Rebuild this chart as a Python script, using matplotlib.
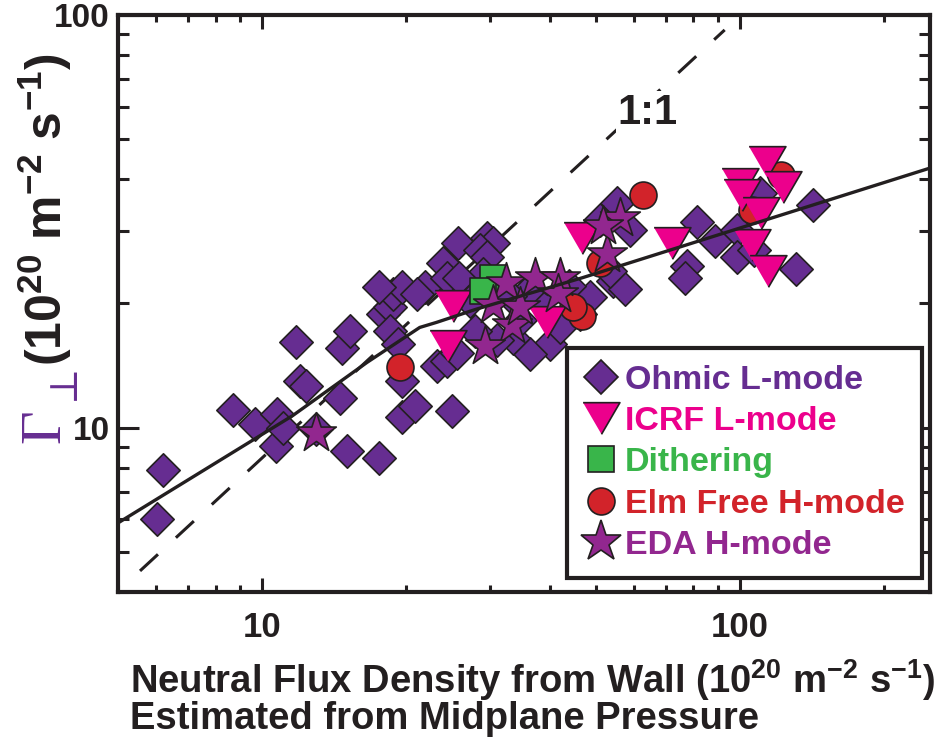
import matplotlib
matplotlib.use("Agg")
import matplotlib.pyplot as plt
from matplotlib.lines import Line2D
from matplotlib.ticker import LogLocator, NullFormatter, FixedLocator, FixedFormatter

plt.rcParams['mathtext.default'] = 'regular'

# ---------------- data ----------------
ohmic_x = [6.03, 6.21, 8.70, 9.67, 10.75, 10.7, 11.06, 11.78, 12.0, 12.4, 14.7, 15.3, 14.6, 13.0,
           15.1, 17.6, 19.6, 19.6, 20.9, 25.0, 23.2, 24.4, 17.9, 18.5, 18.8, 19.6, 18.5, 19.3,
           17.6, 21.9, 21.1, 23.9, 25.7, 29.6, 30.4, 28.6, 24.4, 29.6, 29.0, 25.6, 25.9, 48.6,
           54.2, 57.5, 40.0, 36.4, 33.5, 31.0, 34.7, 42.0, 46.3, 38.2, 27.2, 27.9, 55.3, 58.9,
           50.9, 53.5, 81.3, 88.7, 98.6, 98.6, 77.5, 76.7, 142, 131, 110, 107, 36.0, 44.0, 33.0]
ohmic_y = [6.01, 7.91, 11.05, 10.2, 10.8, 9.04, 10.0, 16.1, 13.0, 12.6, 15.6, 17.2, 11.8, 9.94,
           8.79, 8.45, 13.0, 10.6, 11.3, 11.0, 14.1, 14.5, 18.9, 19.6, 21.1, 21.9, 17.2, 16.0,
           21.9, 21.9, 21.1, 25.0, 28.0, 28.9, 28.0, 26.9, 23.0, 25.9, 23.6, 15.2, 23.1, 20.7,
           22.7, 21.7, 16.0, 15.1, 16.5, 16.3, 18.2, 17.5, 18.9, 20.3, 20.3, 17.2, 35.0, 30.1,
           31.8, 24.0, 31.5, 28.4, 30.1, 25.9, 24.7, 23.1, 34.6, 24.3, 37.0, 26.9, 21.5, 22.0, 20.8]

icrf_x = [25.1, 24.5, 39.5, 46.7, 72.1, 114, 100, 101, 123, 111, 106, 114.5]
icrf_y = [19.7, 15.8, 18.0, 28.8, 28.0, 44.0, 39.0, 36.6, 38.2, 33.2, 27.7, 24.0]

dither_x = [30.4, 29.0]
dither_y = [23.1, 21.5]

elm_x = [19.5, 46.7, 44.7, 62.7, 50.9, 122, 106]
elm_y = [14.0, 18.7, 19.6, 36.6, 25.0, 40.9, 33.6]

eda_x = [13.0, 32.5, 37.2, 42.0, 30.4, 33.3, 29.3, 34.7, 41.6, 52.7, 56.1, 51.7]
eda_y = [9.7, 22.4, 23.0, 23.1, 19.8, 17.7, 15.8, 19.6, 21.1, 26.4, 32.3, 30.9]

fit_x = [5.0, 11.6, 16.6, 21.4, 23.2, 28.2, 46.9, 249]
fit_y = [5.88, 10.7, 14.4, 17.5, 18.0, 19.4, 23.1, 42.5]

one_x = [5.56, 93]
one_y = [4.5, 92]

labels = ["Ohmic L-mode", "ICRF L-mode", "Dithering", "Elm Free H-mode", "EDA H-mode"]
colors = ["#662d91", "#ec008c", "#39b54a", "#d2232a", "#92278f"]

xticks = [10, 100]
xticklabels = ["10", "100"]
yticks = [10, 100]
yticklabels = ["10", "100"]

# ---------------- figure ----------------
EDGE = "#231f20"
tri = [(-1, 0.86), (1, 0.86), (0, -0.86)]

fig = plt.figure(figsize=(9.53, 7.37), dpi=100)
ax = fig.add_axes([0.1238, 0.1967, 0.852, 0.783])
ax.set_xscale('log')
ax.set_yscale('log')
ax.set_xlim(5, 250)
ax.set_ylim(4, 100)

ax.plot(one_x, one_y, color=EDGE, lw=2.2, dashes=(8, 8), zorder=1)
ax.scatter(ohmic_x, ohmic_y, marker='D', s=17**2, c=colors[0], edgecolors=EDGE, linewidths=1.2, zorder=2)
ax.scatter(elm_x, elm_y, marker='o', s=19.4**2, c=colors[3], edgecolors=EDGE, linewidths=1.2, zorder=3)
ax.scatter(icrf_x, icrf_y, marker=tri, s=26.5**2, c=colors[1], edgecolors=EDGE, linewidths=1.2, zorder=4)
ax.scatter(dither_x, dither_y, marker='s', s=18.7**2, c=colors[2], edgecolors=EDGE, linewidths=1.2, zorder=5)
ax.scatter(eda_x, eda_y, marker='*', s=30**2, c=colors[4], edgecolors=EDGE, linewidths=1.2, zorder=6)
ax.plot(fit_x, fit_y, color=EDGE, lw=2.4, zorder=7)

ax.text(64, 58, "1:1", ha='center', va='center', fontsize=30, fontweight='bold',
        family='Liberation Sans', color=EDGE, zorder=1.5,
        bbox=dict(facecolor='white', edgecolor='none', pad=1))

# ticks
for s in ax.spines.values():
    s.set_linewidth(3)
    s.set_color(EDGE)
ax.xaxis.set_major_locator(FixedLocator(xticks))
ax.xaxis.set_major_formatter(FixedFormatter(xticklabels))
ax.yaxis.set_major_locator(FixedLocator(yticks))
ax.yaxis.set_major_formatter(FixedFormatter(yticklabels))
ax.xaxis.set_minor_locator(LogLocator(base=10, subs=range(2, 10)))
ax.yaxis.set_minor_locator(LogLocator(base=10, subs=range(2, 10)))
ax.xaxis.set_minor_formatter(NullFormatter())
ax.yaxis.set_minor_formatter(NullFormatter())
ax.tick_params(axis='x', which='major', direction='in', length=10, width=2.2, top=True, pad=14, color=EDGE)
ax.tick_params(axis='x', which='minor', direction='in', length=5, width=2.2, top=True, color=EDGE)
ax.tick_params(axis='y', which='major', direction='in', length=15, width=2.2, right=True, pad=6, color=EDGE)
ax.tick_params(axis='y', which='minor', direction='in', length=8, width=2.2, right=True, color=EDGE)
for lab in ax.get_xticklabels():
    lab.set_fontfamily('Liberation Sans')
    lab.set_fontweight('bold')
    lab.set_fontsize(25)
    lab.set_color(EDGE)
for lab in ax.get_yticklabels():
    lab.set_fontfamily('Liberation Sans')
    lab.set_fontweight('bold')
    lab.set_fontsize(24)
    lab.set_color(EDGE)

# legend
handles = [
    Line2D([], [], ls='none', marker='D', ms=17, mfc=colors[0], mec=EDGE, mew=1.2),
    Line2D([], [], ls='none', marker=tri, ms=26.5, mfc=colors[1], mec=EDGE, mew=1.2),
    Line2D([], [], ls='none', marker='s', ms=18.7, mfc=colors[2], mec=EDGE, mew=1.2),
    Line2D([], [], ls='none', marker='o', ms=19.4, mfc=colors[3], mec=EDGE, mew=1.2),
    Line2D([], [], ls='none', marker='*', ms=31, mfc=colors[4], mec=EDGE, mew=1.2),
]
leg = ax.legend(handles, labels, loc='upper left', bbox_to_anchor=(0.553, 0.423),
                borderaxespad=0, frameon=True, fancybox=False, framealpha=1,
                edgecolor=EDGE, handlelength=1.0, handletextpad=0.2, labelspacing=0.3,
                borderpad=0.5, labelcolor=colors,
                prop={'family': 'Liberation Sans', 'weight': 'bold', 'size': 24.5})
leg.get_frame().set_linewidth(3)
leg.set_zorder(10)

# axis labels
fig.text(130 / 953, 1 - 693 / 737, "Neutral Flux Density from Wall (10$^{20}$ m$^{-2}$ s$^{-1}$)",
         ha='left', va='baseline', fontsize=27.5, fontweight='bold', family='Liberation Sans', color=EDGE)
fig.text(130 / 953, 1 - 729 / 737, "Estimated from Midplane Pressure",
         ha='left', va='baseline', fontsize=27.5, fontweight='bold', family='Liberation Sans', color=EDGE)

fig.text(45 / 953, 1 - 366 / 737, "(10$^{20}$ m$^{-2}$ s$^{-1}$)", rotation=90,
         ha='center', va='bottom', fontsize=36, fontweight='bold', family='Liberation Sans', color=EDGE)
fig.text(45 / 953, 1 - 443 / 737, "\u0393", rotation=90, ha='center', va='bottom',
         fontsize=42, family=['Liberation Serif', 'DejaVu Serif'], color=colors[0])
fig.text(63 / 953, 1 - 400 / 737, "\u22a5", rotation=90, ha='center', va='bottom',
         fontsize=28, family=['DejaVu Serif'], color=colors[0])

fig.savefig("out.png", dpi=100)
